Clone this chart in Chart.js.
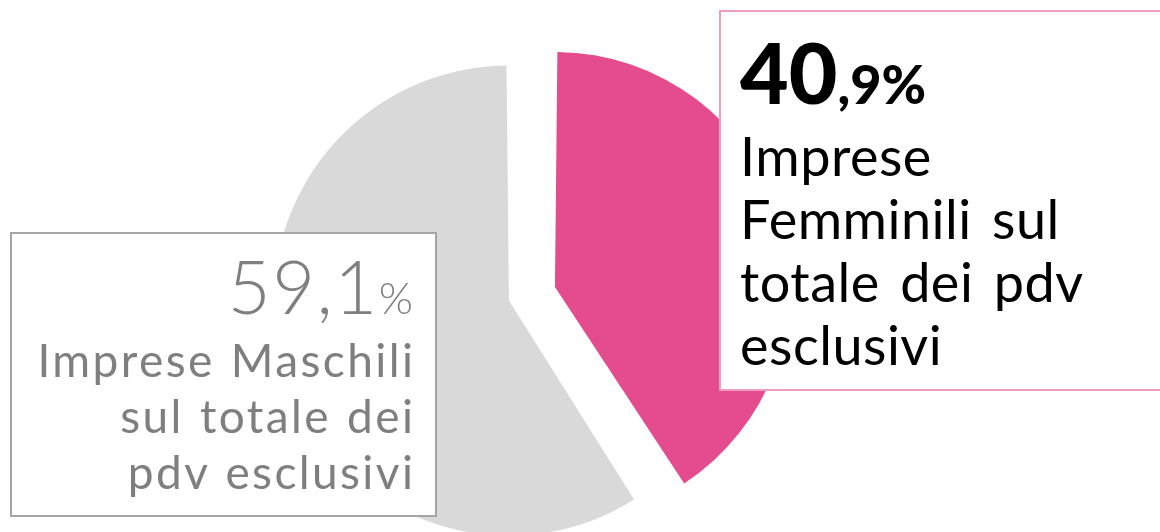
<!DOCTYPE html>
<html>
<head>
<meta charset="utf-8">
<script src="https://cdn.jsdelivr.net/npm/chart.js@4"></script>
<style>
  html, body { margin: 0; padding: 0; background: #fff; overflow: hidden; }
  #wrap { position: relative; width: 1160px; height: 532px; overflow: hidden; font-family: Lato, 'Open Sans', sans-serif; }
  #pieChart { position: absolute; left: 0; top: 0; }
  .box { position: absolute; background: #fff; box-sizing: border-box; }
  .line { position: absolute; line-height: 1; white-space: nowrap; }
  #boxF { left: 719px; top: 10px; width: 470px; height: 381px; border: 2px solid #ec9dc1; }
  #boxM { left: 10px; top: 232px; width: 427px; height: 285px; border: 2px solid #a5a5a5; }
  .f { left: 740px; color: #000; font-weight: 400; letter-spacing: 0.5px; word-spacing: 6px; }
  .m { left: 0; width: 413px; text-align: right; color: #7f7f7f; font-weight: 400; letter-spacing: 2.4px; word-spacing: 2px; }
  .m .last { letter-spacing: 0; }
</style>
</head>
<body>
<div id="wrap">
  <canvas id="pieChart" width="1160" height="532"></canvas>
  <div class="box" id="boxF"></div>
  <div class="box" id="boxM"></div>
</div>
<script>
// values
const categories = ['Imprese Femminili', 'Imprese Maschili'];
const shares = [40.9, 59.1];
const sliceColors = ['#e54c8d', '#d9d9d9'];
const boxText = {
    f: ['Imprese', 'Femminili sul', 'totale dei pdv', 'esclusivi'],
    m: ['Imprese Maschili', 'sul totale dei', 'pdv esclusivi']
};

function fmt(v) {
    return v.toFixed(1).split('.');
}

const ctx = document.getElementById('pieChart').getContext('2d');
const pieChart = new Chart(ctx, {
    type: 'pie',
    data: {
        labels: categories,
        datasets: [{
            data: shares,
            backgroundColor: sliceColors,
            borderWidth: 0,
            offset: [131.6, 60.4], // pulls the two slices apart
            radius: 220,
            clip: false
        }]
    },
    options: {
        responsive: false,
        animation: false,
        layout: { padding: { left: 0, right: 113.2, top: 60.6, bottom: 0 } },
        plugins: {
            legend: { display: false },
            tooltip: { enabled: false }
        }
    }
});

// text inside the two boxes (baseline y -> top with line-height 1)
const wrap = document.getElementById('wrap');
function addLine(cls, baseline, size, html) {
    const d = document.createElement('div');
    d.className = 'line ' + cls;
    d.style.fontSize = size + 'px';
    d.style.top = (baseline - 0.887 * size) + 'px';
    d.innerHTML = html;
    wrap.appendChild(d);
    return d;
}

// right-aligned lines: keep the trailing letter-spacing off the last glyph
function trimLast(t) {
    return t.slice(0, -1) + '<span class="last">' + t.slice(-1) + '</span>';
}

const pf = fmt(shares[0]);
addLine('f', 105, 84, '<span style="font-weight:900;letter-spacing:0">' + pf[0] + '</span>' +
    '<span style="font-weight:900;font-size:54px;letter-spacing:0">,' + pf[1] + '%</span>');
boxText.f.forEach((t, i) => addLine('f', 177 + i * 63, 54, t));

const pm = fmt(shares[1]);
addLine('m', 315, 74, '<span style="font-weight:300;letter-spacing:1.5px">' + pm[0] + ',' + pm[1] +
    '</span><span style="font-weight:300;font-size:44px;letter-spacing:0">%</span>');
boxText.m.forEach((t, i) => addLine('m', 378 + i * 56, 46, trimLast(t)));
</script>
</body>
</html>
